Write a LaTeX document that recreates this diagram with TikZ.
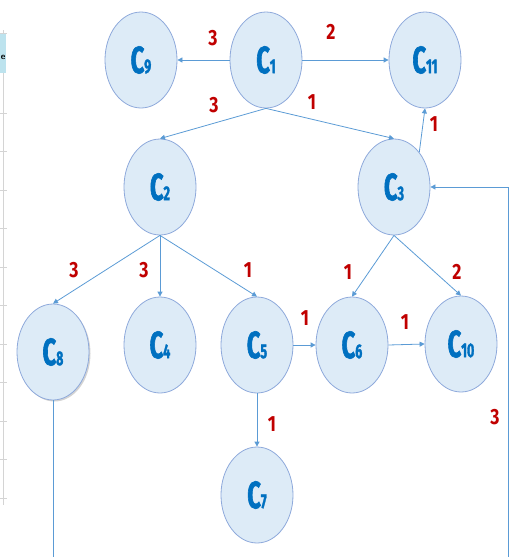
\documentclass[tikz,border=0pt]{standalone}
\usepackage{fontspec}
\newfontfamily\cfont[FakeStretch=0.62,FakeBold=1.6]{Fira Sans}
\newfontfamily\lfont[FakeStretch=0.8]{Fira Sans}
\usetikzlibrary{shapes.geometric,arrows.meta,shadows}
\definecolor{nodefill}{HTML}{DDEBF7}
\definecolor{nodedraw}{HTML}{8EA9DB}
\definecolor{edgecol}{HTML}{5B9BD5}
\definecolor{txtblue}{HTML}{0070C0}
\definecolor{lblred}{HTML}{C00000}
\definecolor{gridgray}{HTML}{D4D4D4}
\definecolor{cellblue}{HTML}{BDE3EE}
\newcommand{\cname}[1]{{\cfont\bfseries\fontsize{38}{38}\selectfont C\fontsize{20}{20}\selectfont #1}}
\tikzset{
  cnode/.style={ellipse, draw=nodedraw, fill=nodefill, line width=0.8pt,
    minimum width=72pt, minimum height=96pt, inner sep=0pt, text=txtblue},
  arr/.style={draw=edgecol, line width=0.8pt, -{Triangle[width=5pt,length=5pt]}},
  plain/.style={draw=edgecol, line width=0.8pt},
  lbl/.style={text=lblred, font=\lfont\bfseries\fontsize{22}{22}\selectfont, inner sep=0pt},
  gridln/.style={draw=gridgray, line width=1pt}
}
\begin{document}
\begin{tikzpicture}[x=1pt,y=-1pt]
\useasboundingbox (0,0) rectangle (515,557);
% spreadsheet fragment at left edge
\fill[cellblue] (0,33) rectangle (6,73);
\node[font=\sffamily\bfseries\fontsize{9}{9}\selectfont, inner sep=0pt] (ecell) at (3.2,57) {e};
\draw[gridln] (3,30) -- (3,33) (3,73) -- (3,505);
\foreach \t in {33,113,151.5,190,228.5,267,305.5,344,382.5,421,459.5,498}
  \draw[gridln] (0,\t) -- (7,\t);
% nodes
\node[cnode] (C9) at (141,60) {\cname{9}};
\node[cnode] (C1) at (266,60) {\cname{1}};
\node[cnode] (C11) at (425,60) {\cname{11}};
\node[cnode] (C2) at (160,187) {\cname{2}};
\node[cnode] (C3) at (394,187) {\cname{3}};
\node[cnode, drop shadow={shadow xshift=1.5pt, shadow yshift=-1.5pt, opacity=0.35}] (C8) at (53,352) {\cname{8}};
\node[cnode] (C4) at (160,345) {\cname{4}};
\node[cnode] (C5) at (257,345) {\cname{5}};
\node[cnode] (C6) at (352,345) {\cname{6}};
\node[cnode] (C10) at (461,344) {\cname{10}};
\node[cnode] (C7) at (257,495) {\cname{7}};
% free ends
\coordinate (b8) at (53,557);
\coordinate (br) at (508,557);
\coordinate (rc) at (508,187);
% edges
\draw[arr] (C1.west) -- (C9.east);
\draw[arr] (C1.east) -- (C11.west);
\draw[arr] (C1.south) -- (C2.north);
\draw[arr] (C1.south) -- (C3.north);
\draw[arr] (C3.54) -- (C11.south);
\draw[arr] (C2.south) -- (C8.north);
\draw[arr] (C2.south) -- (C4.north);
\draw[arr] (C2.south) -- (C5.north);
\draw[arr] (C3.south) -- (C6.north);
\draw[arr] (C3.south) -- (C10.north);
\draw[arr] (C5.east) -- (C6.west);
\draw[arr] (C6.east) -- (C10.west);
\draw[arr] (C5.south) -- (C7.north);
\draw[plain] (C8.south) -- (b8);
\draw[arr] (br) -- (rc) -- (C3.east);
% labels
\node[lbl] (l19) at (213,38) {3};
\node[lbl] (l111) at (331,32) {2};
\node[lbl] (l12) at (214,105) {3};
\node[lbl] (l13) at (312,102) {1};
\node[lbl] (l311) at (434,124) {1};
\node[lbl] (l28) at (74,270) {3};
\node[lbl] (l24) at (144,270) {3};
\node[lbl] (l25) at (248,270) {1};
\node[lbl] (l56) at (305,318) {1};
\node[lbl] (l36) at (348,272) {1};
\node[lbl] (l310) at (457,272) {2};
\node[lbl] (l610) at (405,322) {1};
\node[lbl] (l57) at (272,424) {1};
\node[lbl] (l83) at (495,417) {3};
\end{tikzpicture}
\end{document}
